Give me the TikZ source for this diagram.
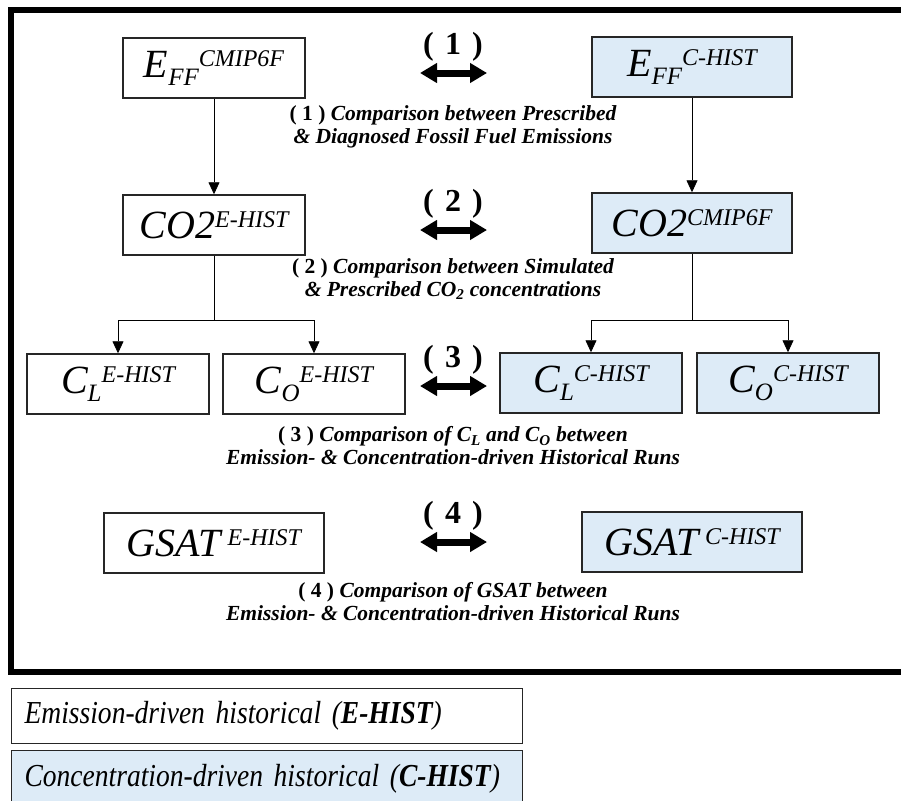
\documentclass[tikz,border=0pt]{standalone}
\usepackage{fontspec}
\setmainfont{Liberation Serif}
\usetikzlibrary{arrows.meta,positioning}
\definecolor{runblue}{RGB}{221,235,247}
\newcommand{\boxfont}{\fontsize{40}{40}\selectfont\itshape}
\newcommand{\hi}[1]{\raisebox{11pt}{\fontsize{24}{24}\selectfont #1}}
\newcommand{\lo}[1]{\raisebox{-8pt}{\fontsize{25}{25}\selectfont #1}}
\tikzstyle{ebox}=[rectangle, draw=black!85, line width=1.5pt, fill=white, minimum width=182pt, minimum height=60pt, inner sep=0pt, anchor=center, font=\boxfont]
\tikzstyle{cbox}=[ebox, fill=runblue]
\tikzstyle{link}=[-{Triangle[width=11pt,length=12pt]}, line width=0.8pt]
\tikzstyle{dbl}=[{Triangle[width=19pt,length=17pt]}-{Triangle[width=19pt,length=17pt]}, line width=7pt]
\tikzstyle{num}=[font=\fontsize{32}{32}\selectfont\bfseries]
\tikzstyle{cmp}=[align=center, font=\fontsize{21.5}{23}\selectfont\bfseries\itshape]
\tikzstyle{legend}=[rectangle, draw=black!85, line width=1.2pt, minimum height=55pt, text width=485pt, inner xsep=13pt, inner ysep=0pt, align=left, anchor=north west, font=\fontsize{32}{32}\selectfont\addfontfeatures{FakeStretch=0.86}\itshape]
\newcommand{\drawlegend}[0]
{
  \node[legend, fill=white](lege) at (11,688) {Emission-driven historical (\textbf{E-HIST})};
  \node[legend, fill=runblue, minimum height=56pt](legc) at (11,750) {Concentration-driven historical (\textbf{C-HIST})};
}

\begin{document}
\begin{tikzpicture}[x=1pt,y=-1pt]
	\useasboundingbox (0,0) rectangle (901,800);
	\draw[line width=6pt] (11,10) rectangle (915,672);

	% emission-driven column
	\node[ebox](effe) at (214,68) {E\lo{FF}\hi{CMIP6F}};
	\node[ebox](co2e) at (214,225) {CO2\hi{E-HIST}};
	\node[ebox](cle) at (118,384) {C\lo{L}\hi{E-HIST}};
	\node[ebox](coe) at (314,384) {C\lo{O}\hi{E-HIST}};
	\node[ebox, minimum width=220pt](gsate) at (214,543) {GSAT\,\hi{E-HIST}};

	% concentration-driven column
	\node[cbox, minimum width=200pt](effc) at (692,67) {E\lo{FF}\hi{C-HIST}};
	\node[cbox, minimum width=200pt](co2c) at (692,223) {CO2\hi{CMIP6F}};
	\node[cbox](clc) at (591,383) {C\lo{L}\hi{C-HIST}};
	\node[cbox](coc) at (788,383) {C\lo{O}\hi{C-HIST}};
	\node[cbox, minimum width=220pt](gsatc) at (692,542) {GSAT\,\hi{C-HIST}};

	\draw[link] (effe) -- (co2e);
	\draw[link] (effc) -- (co2c);
	\coordinate (je) at (214,320);
	\coordinate (jc) at (692,320);
	\draw[line width=0.8pt] (co2e) -- (je);
	\draw[link] (je) -| (cle);
	\draw[link] (je) -| (coe);
	\draw[line width=0.8pt] (co2c) -- (jc);
	\draw[link] (jc) -| (clc);
	\draw[link] (jc) -| (coc);

	\foreach \r/\y in {1/73,2/230,3/386,4/542}
	{
		\coordinate (w\r) at (420,\y);
		\coordinate (e\r) at (487,\y);
		\draw[dbl] (w\r) -- (e\r);
		\node[num](n\r) at (453,\y-26) {(\hspace{0.35em}\r\hspace{0.35em})};
	}

	\node[cmp](t1) at (453,127) {{\upshape ( 1 )} Comparison between Prescribed\\ \& Diagnosed Fossil Fuel Emissions};
	\node[cmp](t2) at (453,279) {{\upshape ( 2 )} Comparison between Simulated\\ \& Prescribed CO\textsubscript{2} concentrations};
	\node[cmp](t3) at (453,446) {{\upshape ( 3 )} Comparison of C\textsubscript{L} and C\textsubscript{O} between\\ Emission- \& Concentration-driven Historical Runs};
	\node[cmp](t4) at (453,602) {{\upshape ( 4 )} Comparison of GSAT between\\ Emission- \& Concentration-driven Historical Runs};

	\drawlegend{}
\end{tikzpicture}
\end{document}
